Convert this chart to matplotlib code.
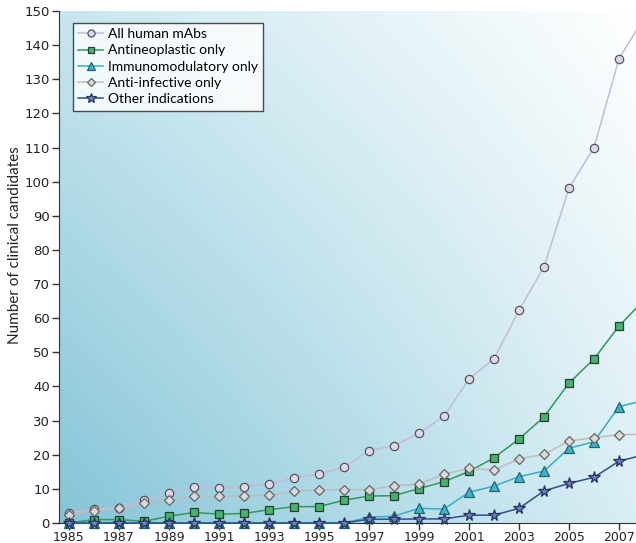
import matplotlib.pyplot as plt
import numpy as np
from matplotlib.colors import to_rgb

# Clinical candidates per year
years = list(range(1985, 2009))
all_mabs = [3, 4, 4.5, 6.7, 8.9, 10.5, 10.4, 10.5, 11.5, 13.3, 14.4, 16.3,
            21.2, 22.6, 26.3, 31.3, 42.2, 48.1, 62.3, 75.1, 98.1, 110, 136, 148]
antineoplastic = [0, 1, 1, 0.5, 2, 3.1, 2.6, 2.8, 3.9, 4.8, 4.8, 6.7,
                  7.9, 8, 10.1, 12.1, 15.1, 19.1, 24.6, 31.1, 41, 48.1, 57.7, 65.3]
immunomodulatory = [0, 0, 0, 0, 0, 0, 0, 0, 0, 0, 0, 0,
                    1.7, 2, 4.3, 4.1, 9, 10.8, 13.6, 15.2, 21.9, 23.8, 34.1, 35.9]
anti_infective = [2.3, 3.6, 4.3, 5.8, 6.7, 7.8, 7.8, 7.8, 8.1, 9.3, 9.7, 9.8,
                  9.8, 10.9, 11.4, 14.3, 16, 15.5, 18.8, 20.1, 24, 25, 25.9, 26]
other = [0, 0, 0, 0, 0, 0, 0, 0, 0, 0, 0, 0,
         1.1, 1.1, 1.2, 1.2, 2.3, 2.3, 4.3, 9.4, 11.6, 13.4, 18.1, 20]

labels = ["All human mAbs", "Antineoplastic only", "Immunomodulatory only",
          "Anti-infective only", "Other indications"]

fig = plt.figure(figsize=(6.36, 5.43), dpi=100)
ax = fig.add_axes([0.0928, 0.0368, 0.9072, 0.943])

# background gradient: teal at bottom-left fading to white at top-right
corners = {"bl": to_rgb("#84c4d7"), "tl": to_rgb("#c8e6ef"),
           "br": to_rgb("#d9eef4"), "tr": to_rgb("#ffffff")}
gx, gy = np.meshgrid(np.linspace(0, 1, 200), np.linspace(0, 1, 200))
img = np.zeros((200, 200, 3))
for c in range(3):
    img[..., c] = (corners["bl"][c] * (1 - gx) * (1 - gy)
                   + corners["br"][c] * gx * (1 - gy)
                   + corners["tl"][c] * (1 - gx) * gy
                   + corners["tr"][c] * gx * gy)
ax.imshow(img, extent=[0, 1, 0, 1], transform=ax.transAxes, origin="lower",
          aspect="auto", zorder=0)

series = [
    (all_mabs, "o", "#c3bbdb", "#dcd6ee", "#555555"),
    (antineoplastic, "s", "#2f9a5c", "#43b46c", "#2b3b30"),
    (immunomodulatory, "^", "#33afc6", "#3bb5c9", "#1f6470"),
    (anti_infective, "D", "#bdbdbd", "#d9d9d9", "#666666"),
    (other, "*", "#2c4f8f", "#6f80c0", "#26345e"),
]
sizes = {"o": 6, "s": 5.5, "^": 7, "D": 5, "*": 8.5}
for i, (vals, mk, lc, fc, ec) in enumerate(series):
    ax.plot(years, vals, color=lc, lw=1.1, marker=mk, ms=sizes[mk],
            mfc=fc, mec=ec, mew=0.9, label=labels[i], zorder=3 + i,
            clip_on=False)

ax.set_xlim(1984.6, 2007.68)
ax.set_ylim(0, 150)
ax.set_xticks(range(1985, 2008, 2))
ax.set_yticks(range(0, 151, 10))

for s in ["top", "right"]:
    ax.spines[s].set_visible(False)
ax.spines["left"].set_color("#333333")
ax.spines["bottom"].set_color("#333333")
ax.tick_params(direction="out", length=5, width=1, color="#333333",
               labelsize=9.5, labelcolor="#222222", pad=1.5)
ax.tick_params(axis="x", pad=0.5, labelsize=9)
for t in ax.get_xticklabels() + ax.get_yticklabels():
    t.set_family(["Liberation Sans Narrow", "DejaVu Sans"])

ax.set_ylabel("Number of clinical candidates", fontsize=11,
              family=["Lato", "DejaVu Sans"], color="#222222")
ax.yaxis.set_label_coords(-0.064, 0.543)

leg = ax.legend(loc="upper left", bbox_to_anchor=(0.024, 0.977),
                borderaxespad=0,
                prop={"family": ["Lato", "DejaVu Sans"], "size": 10},
                frameon=True, fancybox=False, edgecolor="#222222",
                handlelength=1.8, handletextpad=0.3, labelspacing=0.3,
                borderpad=0.4, markerscale=0.85)
leg.get_frame().set_linewidth(1)
leg.set_zorder(10)

fig.savefig("out.png", dpi=100)
